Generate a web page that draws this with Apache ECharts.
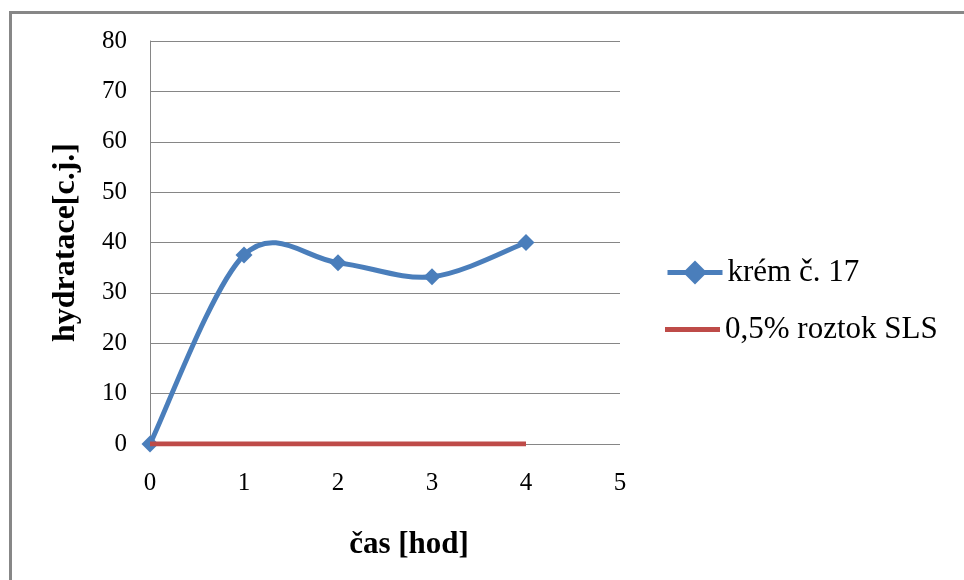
<!DOCTYPE html>
<html>
<head>
<meta charset="utf-8">
<script src="https://cdn.jsdelivr.net/npm/echarts@6/dist/echarts.min.js"></script>
<style>
  html, body { margin: 0; padding: 0; background: #fff; }
  #chart { width: 964px; height: 580px; }
</style>
</head>
<body>
<div id="chart"></div>
<script>
// Hours of measurement
const hours = [0, 1, 2, 3, 4];
// Hydration values (c.j.) for cream no. 17
const cream17 = [0, 37.5, 36.0, 33.2, 40.0];
// Hydration values for 0.5% SLS solution
const sls = [0, 0, 0, 0, 0];
const seriesNames = ['krém č. 17', '0,5% roztok SLS'];

const FONT = '"Liberation Serif", "Times New Roman", serif';
const BLUE = '#4a7ebb';
const RED = '#be4b48';

// Smooth curve through the points (Catmull-Rom style cubic segments)
function renderSmoothSegment(params, api) {
  const i = params.dataIndexInside;
  const n = params.dataInsideLength;
  if (i >= n - 1) return null;
  const pt = (k) => {
    const j = Math.max(0, Math.min(n - 1, k));
    return api.coord([api.value(0, j), api.value(1, j)]);
  };
  const p0 = pt(i - 1), p1 = pt(i), p2 = pt(i + 1), p3 = pt(i + 2);
  return {
    type: 'bezierCurve',
    shape: {
      x1: p1[0], y1: p1[1],
      x2: p2[0], y2: p2[1],
      cpx1: p1[0] + (p2[0] - p0[0]) / 6,
      cpy1: p1[1] + (p2[1] - p0[1]) / 6,
      cpx2: p2[0] - (p3[0] - p1[0]) / 6,
      cpy2: p2[1] - (p3[1] - p1[1]) / 6
    },
    style: { stroke: BLUE, lineWidth: 5, fill: null, lineCap: 'round' }
  };
}

const creamData = hours.map((h, i) => [h, cream17[i]]);
const slsData = hours.map((h, i) => [h, sls[i]]);

const chart = echarts.init(document.getElementById('chart'));
chart.setOption({
  animation: false,
  backgroundColor: '#ffffff',
  graphic: [{
    type: 'rect',
    shape: { x: 10.5, y: 12.5, width: 1000, height: 1000 },
    style: { fill: 'none', stroke: '#878787', lineWidth: 3 },
    silent: true
  }],
  grid: { left: 150, right: 344, top: 41, bottom: 136 },
  legend: [
    {
      orient: 'vertical',
      left: 660,
      top: 252,
      itemWidth: 55,
      itemHeight: 30,
      textStyle: { fontFamily: FONT, fontSize: 31, color: '#000' },
      data: [{
        name: seriesNames[0],
        lineStyle: { color: BLUE, width: 5, opacity: 1 },
        itemStyle: { color: BLUE }
      }]
    },
    {
      orient: 'vertical',
      left: 660,
      top: 309,
      itemWidth: 55,
      itemHeight: 5,
      textStyle: { fontFamily: FONT, fontSize: 31, color: '#000' },
      data: [{ name: seriesNames[1], icon: 'rect', itemStyle: { color: RED } }]
    }
  ],
  xAxis: {
    type: 'value',
    min: 0, max: 5, interval: 1,
    name: 'čas [hod]',
    nameLocation: 'middle',
    nameGap: 85,
    nameTextStyle: {
      fontFamily: FONT, fontSize: 31, fontWeight: 'bold', color: '#000',
      padding: [0, 0, 0, 48]
    },
    axisLine: { show: false },
    axisTick: { show: false },
    splitLine: { show: false },
    axisLabel: { fontFamily: FONT, fontSize: 25, color: '#000', margin: 27 }
  },
  yAxis: {
    type: 'value',
    min: 0, max: 80, interval: 10,
    name: 'hydratace[c.j.]',
    nameLocation: 'middle',
    nameRotate: 90,
    nameGap: 68,
    nameTextStyle: { fontFamily: FONT, fontSize: 32, fontWeight: 'bold', color: '#000' },
    axisLine: { show: true, lineStyle: { color: '#868686', width: 1 } },
    axisTick: { show: false },
    splitLine: { show: true, lineStyle: { color: '#868686', width: 1 } },
    axisLabel: { fontFamily: FONT, fontSize: 25, color: '#000', margin: 23 }
  },
  series: [
    {
      name: 'curve',
      type: 'custom',
      coordinateSystem: 'cartesian2d',
      renderItem: renderSmoothSegment,
      data: creamData,
      z: 2
    },
    {
      name: seriesNames[0],
      type: 'line',
      data: creamData,
      symbol: 'diamond',
      symbolSize: 17,
      itemStyle: { color: BLUE },
      lineStyle: { color: BLUE, width: 5, opacity: 0 },
      z: 3
    },
    {
      name: seriesNames[1],
      type: 'line',
      data: slsData,
      showSymbol: false,
      symbol: 'none',
      itemStyle: { color: RED },
      lineStyle: { color: RED, width: 5 },
      z: 4
    }
  ]
});
</script>
</body>
</html>
